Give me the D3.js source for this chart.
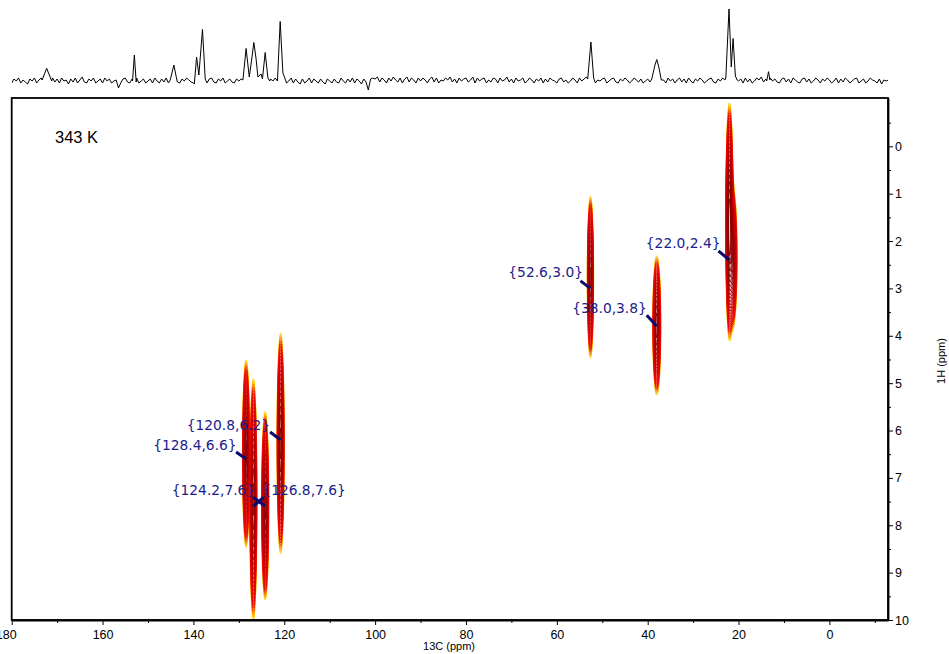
<!DOCTYPE html>
<html>
<head>
<meta charset="utf-8">
<script src="https://cdn.jsdelivr.net/npm/d3@7"></script>
<style>
  html, body { margin: 0; padding: 0; background: #fff; }
  svg { display: block; }
</style>
</head>
<body>
<svg id="chart" width="949" height="654"></svg>
<script>
// ---- axis ticks ----
const carbonTicks = [180, 160, 140, 120, 100, 80, 60, 40, 20, 0];
const carbonMinorTicks = [170, 150, 130, 110, 90, 70, 50, 30, 10, -10];
const protonTicks = [0, 1, 2, 3, 4, 5, 6, 7, 8, 9, 10];
const protonMinorTicks = [-0.5, 0.5, 1.5, 2.5, 3.5, 4.5, 5.5, 6.5, 7.5, 8.5, 9.5];

// ---- 1D 13C projection ----
// baseline noise sampled every 0.5 ppm, starting at 180 ppm and running upfield
const projStart = 180;
const projStep = 0.5;
const projNoise = [
  -2,2,0,3,-2,1,-1,-3,2,0,3,-2,1,3,-1,0,-3,2,3,-1,
  2,-2,3,0,1,-3,2,-1,3,-2,1,4,-1,-2,2,0,3,-2,0,2,
  -2,3,0,2,-2,0,1,-7,-2,2,3,-1,-2,2,0,3,-2,0,2,-2,
  0,2,-2,3,0,-2,2,-1,3,-2,0,2,4,-1,-2,2,0,3,1,-1,
  -2,2,0,-3,2,-1,-2,2,3,-1,-2,2,0,3,-2,0,2,-1,-2,2,
  0,2,-2,0,3,1,-1,2,-2,0,2,3,-1,-2,2,0,3,1,-1,-2,
  2,-2,0,3,-2,2,-1,-3,2,-2,0,3,-2,2,0,-2,2,-1,-3,2,
  0,-2,2,-1,-2,3,0,-2,2,-1,3,-2,2,0,-3,2,-1,-9,2,3,
  2,4,-1,3,1,-2,3,0,4,1,-1,3,-2,2,4,-1,3,1,-2,3,
  0,3,1,-2,2,4,-1,3,-2,1,0,3,1,4,-1,2,-2,3,0,2,
  3,-1,1,4,-2,3,0,2,3,-2,1,-1,3,2,-2,3,0,1,4,-1,
  2,-2,3,0,1,3,-2,0,3,1,-2,2,0,3,-2,2,-1,3,1,0,
  -2,2,3,-1,1,-2,0,3,1,-2,3,0,2,4,1,-1,3,-2,1,0,
  2,3,-2,0,2,3,-1,-2,2,0,3,1,-2,0,3,1,-1,2,-2,0,
  2,-1,3,-2,1,0,3,1,-2,3,0,2,-2,1,3,-1,2,-2,3,0,
  -2,2,0,3,1,-2,0,2,3,-1,-2,2,0,3,1,-1,2,-2,0,3,
  0,2,-2,3,-1,2,-2,0,3,1,4,-1,2,-2,3,0,2,-1,-2,2,
  3,-1,2,-2,3,1,-1,-2,2,3,-1,2,-2,0,3,1,-2,2,0,3,
  1,-2,0,3,-2,2,-1,3,1,-2,0,2,3,-2,0,2,-2,0,3,1,
  0,-2,2,-3,1,0,1
];
// resolved signals in the projection, each as [ppm, intensity] outline vertices
const projPeaks = [
  [[173.3, 1], [172.3, 12.7], [171.2, 0]],
  [[153.4, 0], [153.0, 26], [152.6, -1]],
  [[145.1, 1], [144.3, 16], [143.6, 0]],
  [[139.8, -3], [139.3, 24], [138.8, 6], [138.0, 51.5], [137.4, 2]],
  [[129.1, 1], [128.4, 32.5], [127.7, 4], [127.1, 24], [126.7, 38.5], [126.2, 22],
   [125.8, 4], [125.1, 7], [124.8, 2], [124.2, 28.5], [123.6, 3], [123.2, 0]],
  [[121.5, 0], [120.9, 59.5], [120.3, 8], [119.8, 2]],
  [[53.2, 2], [52.5, 39], [51.9, 3]],
  [[39.1, 2], [38.4, 16], [38.0, 21.5], [37.6, 15], [37.0, 1]],
  [[22.8, 3], [22.1, 72], [21.6, 14], [21.2, 42.5], [20.7, 5], [20.3, 1]],
  [[13.8, 0], [13.4, 9.3], [13.1, 1]]
];

// ---- 2D HSQC cross peaks ----
const peakC     = [22.0, 21.3, 52.6, 38.0, 128.4, 126.8, 124.2, 120.8]; // 13C centre (ppm)
const peakH     = [1.58, 2.35, 2.76, 3.78, 6.49, 7.45, 7.59, 6.27];     // 1H centre (ppm)
const peakSpanC = [0.85, 1.0, 0.7, 0.9, 0.8, 0.8, 0.8, 0.8];            // 13C half-extent of lowest contour
const peakSpanH = [2.5, 1.5, 1.71, 1.47, 1.98, 2.55, 1.99, 2.33];       // 1H half-extent of lowest contour
const peakAmp   = [1.6, 0.8, 1.0, 0.9, 1.0, 1.0, 1.0, 1.0];             // relative intensity

// ---- picked cross-peak positions ----
const markC = [22.0, 52.6, 38.0, 120.8, 128.4, 124.2, 126.8];
const markH = [2.4, 3.0, 3.8, 6.2, 6.6, 7.6, 7.6];

const temperatureLabel = "343 K";

// ================= drawing =================
const svg = d3.select("#chart");
const plot = { left: 11.7, right: 888, top: 98, bottom: 620 };
const tickFont = "'Liberation Sans', Arial, Helvetica, sans-serif";

const x = d3.scaleLinear().domain([180, -12.9]).range([plot.left, plot.right]);
const y = d3.scaleLinear().domain([-1.02, 10]).range([plot.top, plot.bottom]);
const yProj = d3.scaleLinear().domain([-10, 80]).range([91, 1]);

const defs = svg.append("defs");
defs.append("clipPath").attr("id", "plotClip")
  .append("rect")
  .attr("x", plot.left).attr("y", plot.top)
  .attr("width", plot.right - plot.left).attr("height", plot.bottom - plot.top);
defs.append("clipPath").attr("id", "projClip")
  .append("rect")
  .attr("x", plot.left).attr("y", 0)
  .attr("width", plot.right - plot.left).attr("height", 96);

// ---- projection trace ----
const spans = projPeaks.map(p => [d3.min(p, d => d[0]), d3.max(p, d => d[0])]);
const noisePts = projNoise.map((v, i) => [projStart - i * projStep, v])
  .filter(([p]) => !spans.some(([a, b]) => p >= a && p <= b));
const tracePts = noisePts.concat(projPeaks.flat()).sort((a, b) => b[0] - a[0]);

svg.append("path")
  .datum(tracePts)
  .attr("clip-path", "url(#projClip)")
  .attr("fill", "none")
  .attr("stroke", "#000")
  .attr("stroke-width", 1)
  .attr("stroke-linejoin", "round")
  .attr("d", d3.line().x(d => x(d[0])).y(d => yProj(d[1])));

// ---- contour field ----
// geometric contour levels, densest near the noise floor
const lowest = 0.05;
const levelFactor = 1.15;
const levels = [];
for (let v = lowest; v < 1.6; v *= levelFactor) levels.push(v);

const cw = 0.5, ch = 2;
const nx = Math.ceil((plot.right - plot.left) / cw) + 1;
const ny = Math.ceil((plot.bottom - plot.top) / ch) + 1;
const values = new Float64Array(nx * ny);

const colC = d3.range(nx).map(i => x.invert(plot.left + i * cw));
const rowH = d3.range(ny).map(j => y.invert(plot.top + j * ch));

peakC.forEach((c0, k) => {
  const r = Math.sqrt(2 * Math.log(peakAmp[k] / lowest));
  const sC = peakSpanC[k] / r, sH = peakSpanH[k] / r;
  const gx = colC.map(c => Math.exp(-0.5 * ((c - c0) / sC) ** 2));
  const gy = rowH.map(h => Math.exp(-0.5 * ((h - peakH[k]) / sH) ** 2));
  for (let j = 0; j < ny; j++) {
    const a = peakAmp[k] * gy[j];
    if (a < 1e-4) continue;
    const off = j * nx;
    for (let i = 0; i < nx; i++) {
      const g = gx[i];
      if (g > 1e-5) values[off + i] += a * g;
    }
  }
});

const contours = d3.contours().size([nx, ny]).thresholds(levels)(values);
const toScreen = d3.geoTransform({
  point(gxp, gyp) {
    this.stream.point(plot.left + (gxp - 0.5) * cw, plot.top + (gyp - 0.5) * ch);
  }
});
const contourPath = d3.geoPath(toScreen);
const contourColor = d3.scaleLinear()
  .domain([0, 0.08, 0.18, 0.45, 0.8, 1])
  .range(["#ffd400", "#ff8c00", "#ee1100", "#e00000", "#b00000", "#8a0000"])
  .clamp(true);
const levelPos = v => Math.log(v / lowest) / Math.log(1 / lowest);

svg.append("g")
  .attr("clip-path", "url(#plotClip)")
  .selectAll("path")
  .data(contours)
  .join("path")
  .attr("d", contourPath)
  .attr("fill", "none")
  .attr("stroke", d => contourColor(levelPos(d.value)))
  .attr("stroke-width", 1);

// ---- frame ----
svg.append("rect")
  .attr("x", plot.left).attr("y", plot.top)
  .attr("width", plot.right - plot.left).attr("height", plot.bottom - plot.top)
  .attr("fill", "none").attr("stroke", "#000").attr("stroke-width", 1.8);

// ---- 13C axis ----
const xAxisG = svg.append("g").attr("transform", `translate(0,${plot.bottom})`);
xAxisG.call(d3.axisBottom(x).tickValues(carbonTicks).tickFormat(d3.format("d"))
  .tickSize(5).tickSizeOuter(0).tickPadding(5));
svg.append("g").attr("transform", `translate(0,${plot.bottom})`)
  .call(d3.axisBottom(x).tickValues(carbonMinorTicks).tickFormat("").tickSize(3).tickSizeOuter(0))
  .call(g => g.select(".domain").remove());
xAxisG.select(".domain").attr("stroke-width", 1.8);
xAxisG.selectAll("text").attr("font-size", 12.5).attr("font-family", tickFont).attr("fill", "#000");
xAxisG.selectAll(".tick").filter(d => d === 180).select("text").attr("dx", -6);

// ---- 1H axis ----
const yAxisG = svg.append("g").attr("transform", `translate(${plot.right},0)`);
yAxisG.call(d3.axisRight(y).tickValues(protonTicks).tickFormat(d3.format("d"))
  .tickSize(5).tickSizeOuter(0).tickPadding(2));
svg.append("g").attr("transform", `translate(${plot.right},0)`)
  .call(d3.axisRight(y).tickValues(protonMinorTicks).tickFormat("").tickSize(3).tickSizeOuter(0))
  .call(g => g.select(".domain").remove());
yAxisG.select(".domain").attr("stroke-width", 1.8);
yAxisG.selectAll("text").attr("font-size", 12.5).attr("font-family", tickFont).attr("fill", "#000");

// axis titles
svg.append("text")
  .attr("x", 449).attr("y", 649.5)
  .attr("text-anchor", "middle")
  .attr("font-family", tickFont).attr("font-size", 11)
  .text("13C (ppm)");
svg.append("text")
  .attr("transform", "translate(944.5,361) rotate(-90)")
  .attr("text-anchor", "middle")
  .attr("font-family", tickFont).attr("font-size", 11)
  .text("1H (ppm)");

// temperature
svg.append("text")
  .attr("x", 55).attr("y", 142.5)
  .attr("font-family", tickFont).attr("font-size", 16.5)
  .text(temperatureLabel);

// ---- peak annotations ----
const labelLayout = [
  { tx: -9,   ty: -12,   anchor: "end",   ax: -11, ay: -9 },
  { tx: -7.5, ty: -11.5, anchor: "end",   ax: -10, ay: -7.5 },
  { tx: -10,  ty: -13,   anchor: "end",   ax: -10, ay: -11 },
  { tx: -10.5, ty: -10.5, anchor: "end",  ax: -10.5, ay: -8 },
  { tx: -9.5, ty: -8.5,  anchor: "end",   ax: -10, ay: -7 },
  { tx: -10,  ty: -11,   anchor: "end",   ax: -12, ay: -9 },
  { tx: 9,    ty: -11,   anchor: "start", ax: 10,  ay: -9 }
];
const marks = markC.map((c, i) => ({ c, h: markH[i], ...labelLayout[i] }));
const annG = svg.append("g");
annG.selectAll("line")
  .data(marks)
  .join("line")
  .attr("x1", d => x(d.c) + d.ax).attr("y1", d => y(d.h) + d.ay)
  .attr("x2", d => x(d.c)).attr("y2", d => y(d.h))
  .attr("stroke", "#0a0a6e").attr("stroke-width", 3);
annG.selectAll("text")
  .data(marks)
  .join("text")
  .attr("x", d => x(d.c) + d.tx).attr("y", d => y(d.h) + d.ty)
  .attr("text-anchor", d => d.anchor)
  .attr("font-family", "'DejaVu Sans', Verdana, sans-serif")
  .attr("font-size", 13.8)
  .attr("fill", "#1c1c8c")
  .text(d => `{${d.c.toFixed(1)},${d.h.toFixed(1)}}`);
</script>
</body>
</html>
